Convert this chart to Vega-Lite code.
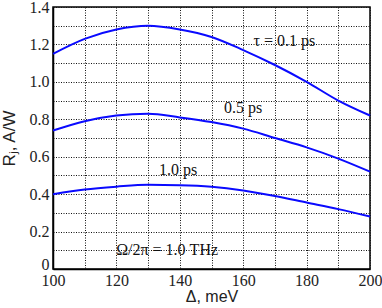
{
  "$schema": "https://vega.github.io/schema/vega-lite/v6.json",
  "width": 317,
  "height": 262,
  "autosize": "none",
  "padding": {"left": 53, "top": 7, "right": 12, "bottom": 39},
  "background": "white",
  "config": {
    "view": {"stroke": "black", "strokeWidth": 1.5},
    "axis": {
      "grid": true,
      "gridColor": "#111",
      "gridDash": [1, 1.5],
      "gridWidth": 1,
      "gridOpacity": 1,
      "ticks": false,
      "labelOverlap": false,
      "labelFlush": false,
      "domainColor": "black",
      "domainWidth": 1.5,
      "labelFont": "Liberation Serif",
      "labelFontSize": 16,
      "labelColor": "#222",
      "titleFont": "Liberation Sans",
      "titleFontWeight": "normal",
      "titleFontSize": 16,
      "titleColor": "#222"
    }
  },
  "datasets": {
    "curves": [
      {"d": 100, "r": 1.15, "tau": "0.1"}, {"d": 110, "r": 1.23, "tau": "0.1"}, {"d": 120, "r": 1.28, "tau": "0.1"}, {"d": 130, "r": 1.30, "tau": "0.1"}, {"d": 140, "r": 1.28, "tau": "0.1"}, {"d": 150, "r": 1.24, "tau": "0.1"}, {"d": 160, "r": 1.17, "tau": "0.1"}, {"d": 170, "r": 1.09, "tau": "0.1"}, {"d": 180, "r": 1.00, "tau": "0.1"}, {"d": 190, "r": 0.90, "tau": "0.1"}, {"d": 200, "r": 0.82, "tau": "0.1"},
      {"d": 100, "r": 0.74, "tau": "0.5"}, {"d": 110, "r": 0.79, "tau": "0.5"}, {"d": 120, "r": 0.82, "tau": "0.5"}, {"d": 130, "r": 0.83, "tau": "0.5"}, {"d": 140, "r": 0.81, "tau": "0.5"}, {"d": 150, "r": 0.785, "tau": "0.5"}, {"d": 160, "r": 0.75, "tau": "0.5"}, {"d": 170, "r": 0.70, "tau": "0.5"}, {"d": 180, "r": 0.65, "tau": "0.5"}, {"d": 190, "r": 0.59, "tau": "0.5"}, {"d": 200, "r": 0.52, "tau": "0.5"},
      {"d": 100, "r": 0.40, "tau": "1.0"}, {"d": 110, "r": 0.425, "tau": "1.0"}, {"d": 120, "r": 0.44, "tau": "1.0"}, {"d": 130, "r": 0.45, "tau": "1.0"}, {"d": 140, "r": 0.448, "tau": "1.0"}, {"d": 150, "r": 0.44, "tau": "1.0"}, {"d": 160, "r": 0.42, "tau": "1.0"}, {"d": 170, "r": 0.39, "tau": "1.0"}, {"d": 180, "r": 0.355, "tau": "1.0"}, {"d": 190, "r": 0.32, "tau": "1.0"}, {"d": 200, "r": 0.28, "tau": "1.0"}
    ],
    "notes": [
      {"d": 173, "r": 1.22, "text": "τ = 0.1 ps"},
      {"d": 160, "r": 0.86, "text": "0.5 ps"},
      {"d": 139.5, "r": 0.53, "text": "1.0 ps"},
      {"d": 136, "r": 0.10, "text": "Ω/2π = 1.0 THz"}
    ]
  },
  "encoding": {
    "x": {
      "field": "d", "type": "quantitative",
      "scale": {"domain": [100, 200], "nice": false},
      "axis": {
        "title": "Δ, meV",
        "values": [100, 110, 120, 130, 140, 150, 160, 170, 180, 190, 200],
        "labelExpr": "datum.value % 20 == 0 ? datum.label : ''",
        "labelPadding": 3,
        "titlePadding": 0
      }
    },
    "y": {
      "field": "r", "type": "quantitative",
      "scale": {"domain": [0, 1.4], "nice": false},
      "axis": {
        "title": "Rⱼ, A/W",
        "values": [0, 0.1, 0.2, 0.3, 0.4, 0.5, 0.6, 0.7, 0.8, 0.9, 1.0, 1.1, 1.2, 1.3, 1.4],
        "labelExpr": "round(datum.value * 10) % 2 == 0 ? (datum.value == 0 ? '0' : format(datum.value, '.1f')) : ''",
        "labelBaseline": {"condition": {"test": "datum.value == 0", "value": "alphabetic"}, "value": "middle"},
        "labelPadding": 4,
        "titlePadding": 11,
        "titleFontSize": 17
      }
    }
  },
  "layer": [
    {
      "data": {"name": "curves"},
      "mark": {"type": "line", "interpolate": "monotone", "color": "#0a0aff", "strokeWidth": 2},
      "encoding": {
        "detail": {"field": "tau"}
      }
    },
    {
      "data": {"name": "notes"},
      "mark": {"type": "text", "font": "Liberation Serif", "fontSize": 16, "color": "#111"},
      "encoding": {
        "text": {"field": "text"}
      }
    }
  ]
}
